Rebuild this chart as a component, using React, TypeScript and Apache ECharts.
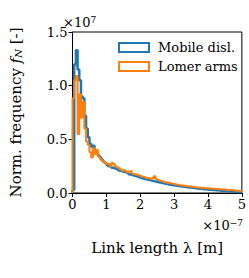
import React, { useEffect, useRef } from "react";
import * as echarts from "echarts";

const binWidth = 0.05; // in units of 1e-7 m
const mobileDisl = [
  0.03, 1.2, 1.33, 1.15, 1.05, 0.9, 0.88, 0.72, 0.6, 0.52,
  0.46, 0.43, 0.44, 0.4, 0.37, 0.35, 0.33, 0.31, 0.29, 0.28,
  0.26, 0.25, 0.245, 0.235, 0.23, 0.225, 0.22, 0.21, 0.205, 0.2,
  0.195, 0.19, 0.185, 0.175, 0.17, 0.165, 0.16, 0.155, 0.15, 0.145,
  0.14, 0.135, 0.13, 0.128, 0.123, 0.12, 0.115, 0.112, 0.108, 0.105,
  0.1, 0.097, 0.094, 0.09, 0.087, 0.083, 0.08, 0.077, 0.075, 0.072,
  0.07, 0.067, 0.065, 0.062, 0.06, 0.058, 0.056, 0.054, 0.052, 0.05,
  0.048, 0.046, 0.044, 0.042, 0.04, 0.039, 0.037, 0.035, 0.034, 0.032,
  0.031, 0.03, 0.028, 0.027, 0.026, 0.025, 0.024, 0.022, 0.021, 0.02,
  0.019, 0.018, 0.016, 0.015, 0.014, 0.013, 0.011, 0.01, 0.009, 0.008,
];
const lomerArms = [
  0.88, 1.05, 1.09, 0.55, 0.92, 0.7, 0.85, 0.6, 0.48, 0.45,
  0.38, 0.33, 0.42, 0.36, 0.4, 0.34, 0.32, 0.3, 0.29, 0.28,
  0.27, 0.27, 0.25, 0.28, 0.27, 0.25, 0.24, 0.23, 0.22, 0.21,
  0.215, 0.205, 0.19, 0.2, 0.205, 0.18, 0.175, 0.17, 0.165, 0.16,
  0.155, 0.15, 0.148, 0.14, 0.142, 0.135, 0.13, 0.14, 0.155, 0.13,
  0.12, 0.115, 0.11, 0.105, 0.1, 0.098, 0.095, 0.09, 0.088, 0.085,
  0.082, 0.078, 0.075, 0.073, 0.07, 0.068, 0.066, 0.064, 0.062, 0.06,
  0.058, 0.056, 0.054, 0.052, 0.05, 0.049, 0.047, 0.046, 0.045, 0.044,
  0.043, 0.042, 0.04, 0.039, 0.038, 0.037, 0.036, 0.034, 0.033, 0.032,
  0.03, 0.029, 0.028, 0.027, 0.026, 0.024, 0.022, 0.02, 0.018, 0.016,
];
const seriesNames = ["Mobile disl.", "Lomer arms"];
const colors = ["#1f77b4", "#ff7f0e"];
const xTicks = [0, 1, 2, 3, 4, 5];
const yTicks = [0, 0.5, 1.0, 1.5];

const FONT = "DejaVu Serif";

const t = (size: number, extra: any = {}) => ({ fontFamily: FONT, fontSize: size, color: "#000", ...extra });

function stepPoints(vals: number[]) {
  const pts: number[][] = [[0, 0]];
  vals.forEach((v, i) => {
    pts.push([i * binWidth, v]);
    pts.push([(i + 1) * binWidth, v]);
  });
  return pts;
}

export default function App() {
  const ref = useRef<HTMLDivElement>(null);
  useEffect(() => {
    document.body.style.margin = "0";
    const chart = echarts.init(ref.current!, null, { renderer: "svg" });
    const gl = 62, gt = 32, gw = 181, gh = 161;
    chart.setOption({
      animation: false,
      backgroundColor: "#fff",
      textStyle: { fontFamily: FONT, color: "#000" },
      grid: { left: gl, top: gt, width: gw, height: gh, show: true, borderColor: "#000", borderWidth: 1, backgroundColor: "transparent" },
      xAxis: {
        type: "value",
        min: xTicks[0],
        max: xTicks[xTicks.length - 1],
        interval: 1,
        axisLine: { show: true, lineStyle: { color: "#000", width: 1 } },
        axisTick: { show: true, length: 4, lineStyle: { color: "#000" } },
        splitLine: { show: false },
        axisLabel: { ...t(13), margin: 5 },
        name: "Link length λ [m]",
        nameLocation: "middle",
        nameGap: 47,
        nameTextStyle: t(15),
      },
      yAxis: {
        type: "value",
        min: yTicks[0],
        max: yTicks[yTicks.length - 1],
        interval: 0.5,
        axisLine: { show: true, lineStyle: { color: "#000", width: 1 } },
        axisTick: { show: true, length: 4, lineStyle: { color: "#000" } },
        splitLine: { show: false },
        axisLabel: { ...t(13), margin: 5, formatter: (v: number) => v.toFixed(1) },
        name: "{a|Norm. frequency }{i|f}{s|N}{a| [-]}",
        nameLocation: "middle",
        nameGap: 49,
        nameTextStyle: {
          ...t(15),
          rich: {
            a: t(15),
            i: t(15, { fontStyle: "italic" }),
            s: t(10, { fontStyle: "italic", verticalAlign: "bottom", padding: [6, 0, 0, 0] }),
          },
        },
      },
      legend: {
        orient: "vertical",
        left: 113,
        top: 36,
        itemWidth: 30,
        itemHeight: 9,
        itemGap: 6,
        icon: "rect",
        textStyle: { ...t(13), padding: [0, 0, 0, 4] },
        data: seriesNames.map((n, i) => ({
          name: n,
          icon: "rect",
          itemStyle: { color: "transparent", borderColor: colors[i], borderWidth: 2 },
        })),
      },
      graphic: [
        {
          type: "text",
          left: 63,
          top: 15,
          style: {
            text: "{a|×10}{sup|7}",
            fontFamily: FONT,
            fontSize: 13,
            fill: "#000",
            rich: { a: { fontFamily: FONT, fontSize: 13, fill: "#000" }, sup: { fontFamily: FONT, fontSize: 9, fill: "#000", verticalAlign: "top", padding: [0, 0, 6, 0] } },
          },
        },
        {
          type: "text",
          right: 6,
          top: 218,
          style: {
            text: "{a|×10}{sup|−7}",
            fontFamily: FONT,
            fontSize: 13,
            fill: "#000",
            rich: { a: { fontFamily: FONT, fontSize: 13, fill: "#000" }, sup: { fontFamily: FONT, fontSize: 9, fill: "#000", verticalAlign: "top", padding: [0, 0, 6, 0] } },
          },
        },
      ],
      series: [mobileDisl, lomerArms].map((vals, i) => ({
        name: seriesNames[i],
        type: "line",
        data: stepPoints(vals),
        showSymbol: false,
        symbol: "none",
        clip: true,
        lineStyle: { color: colors[i], width: i === 0 ? 2.5 : 2 },
        itemStyle: { color: "transparent", borderColor: colors[i], borderWidth: 2 },
      })),
    });
    return () => chart.dispose();
  }, []);
  return <div ref={ref} style={{ position: "absolute", left: 0, top: 0, width: 249, height: 278 }} />;
}
